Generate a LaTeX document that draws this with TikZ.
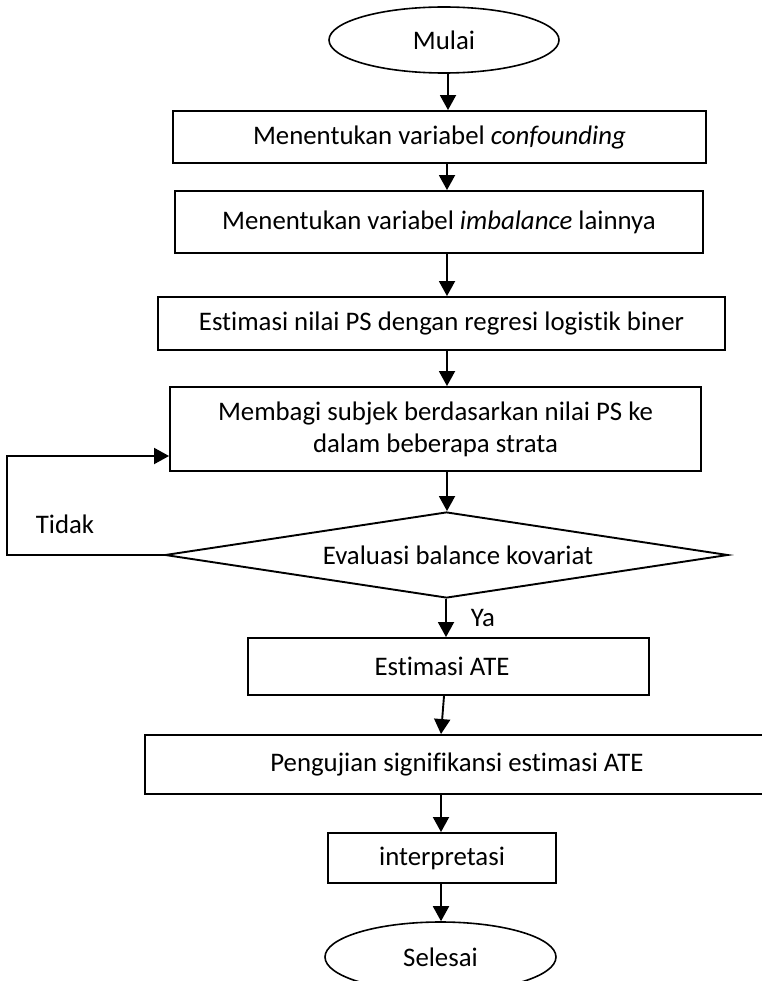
\documentclass[tikz,border=0pt]{standalone}
\usepackage{fontspec}
\setmainfont{Carlito}[Ligatures=CommonOff]
\usetikzlibrary{shapes.geometric,arrows.meta}

\begin{document}
\begin{tikzpicture}[x=1pt,y=-1pt,
  every node/.style={font=\fontsize{26.8}{32}\selectfont, inner sep=0pt},
  stepbox/.style={draw, line width=1.9pt, rectangle, align=center},
  terminal/.style={draw, line width=1.6pt, ellipse},
  decision/.style={draw, line width=1.9pt, diamond},
  arr/.style={line width=1.9pt, -{Triangle[length=15pt,width=16pt]}},
  lbl/.style={}
]
\useasboundingbox (0,0) rectangle (761,981);

% flow nodes
\node[terminal, minimum width=230pt, minimum height=66pt] (start) at (444,40) {Mulai};
\node[stepbox, minimum width=533pt, minimum height=52pt] (m1) at (439.5,137) {Menentukan variabel \textit{confounding}};
\node[stepbox, minimum width=528pt, minimum height=62pt] (m2) at (439,222) {Menentukan variabel \textit{imbalance} lainnya};
\node[stepbox, minimum width=567pt, minimum height=53pt] (m3) at (441.5,323.5) {Estimasi nilai PS dengan regresi logistik biner};
\node[stepbox, minimum width=531pt, minimum height=84pt] (m4) at (435.5,429) {Membagi subjek berdasarkan nilai PS ke\\dalam beberapa strata};
\node[decision, minimum width=563pt, minimum height=86pt] (dec) at (446.5,555) {};
\node (dect) at (458,555) {Evaluasi balance kovariat};
\node[stepbox, minimum width=401pt, minimum height=57pt] (m5) at (448.5,666.5) {};
\node (m5t) at (442,666.5) {Estimasi ATE};
\node[stepbox, minimum width=624pt, minimum height=59pt] (m6) at (457,764.5) {Pengujian signifikansi estimasi ATE};
\node[stepbox, minimum width=228pt, minimum height=50pt] (m7) at (442,858) {interpretasi};
\node[terminal, minimum width=231pt, minimum height=70pt] (end) at (440.5,957) {Selesai};

% branch labels
\node[lbl] (no) at (65,524) {Tidak};
\node[lbl] (yes) at (483,618) {Ya};

% connector columns
\coordinate (ca) at (448,0);
\coordinate (cb) at (447,0);
\coordinate (cc) at (446,0);
\coordinate (cd) at (444,0);
\coordinate (ce) at (441,0);
\coordinate (fbx) at (7,456);

\draw[arr] (start.south -| ca) -- (m1.north -| ca);
\draw[arr] (m1.south -| cb) -- (m2.north -| cb);
\draw[arr] (m2.south -| cb) -- (m3.north -| cb);
\draw[arr] (m3.south -| cb) -- (m4.north -| cb);
\draw[arr] (m4.south -| cb) -- (dec.north -| cb);
\draw[arr] (dec.south -| cc) -- (m5.north -| cc);
\draw[arr] (m5.south -| cd) -- (m6.north -| ce);
\draw[arr] (m6.south -| ce) -- (m7.north -| ce);
\draw[arr] (m7.south -| ce) -- (end.north -| ce);

% loop back when covariates are not balanced
\draw[arr] (dec.west) -| (fbx) |- ([yshift=-27pt]m4.west);
\end{tikzpicture}
\end{document}
